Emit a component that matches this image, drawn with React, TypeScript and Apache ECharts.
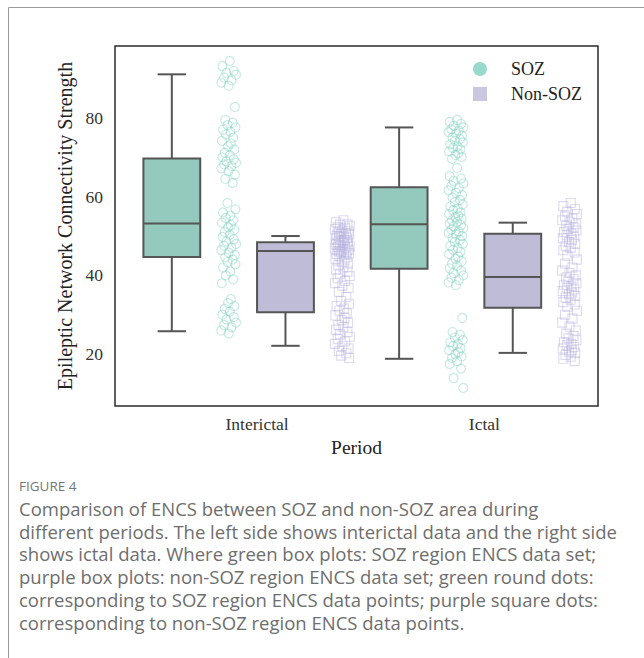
import React, { useEffect, useRef } from "react";
import * as echarts from "echarts";

// ---- Data ----
const periods = ["Interictal", "Ictal"];
const periodCenters = [1.5, 5.5];
const yTicks = [20, 40, 60, 80];

// slot positions (box, scatter) per period
const sozBoxPos = [0, 4];
const sozDotPos = [1, 5];
const nonBoxPos = [2, 6];
const nonDotPos = [3, 7];

// [min, Q1, median, Q3, max]
const sozBoxes = [
  [25.8, 44.7, 53.2, 69.7, 91.1],
  [18.8, 41.7, 53.0, 62.4, 77.6],
];
const nonSozBoxes = [
  [22.1, 30.6, 46.2, 48.4, 50.0],
  [20.3, 31.8, 39.6, 50.6, 53.4],
];

const sozInterictal = [
  94.5, 93.2, 92.0, 91.5, 91.0, 90.3, 89.6, 89.0, 88.2, 82.8,
  79.5, 78.8, 78.2, 77.6, 77.0, 76.5, 75.8, 75.0, 74.2, 73.5, 72.8, 72.0, 71.2, 70.5,
  70.0, 69.5, 69.0, 68.6, 68.2, 67.8, 67.2, 66.5, 65.6, 64.5, 63.5,
  58.4, 56.8, 56.0, 55.2, 54.6, 54.0, 53.4, 52.8, 52.2, 51.6, 51.0, 50.3, 49.8, 49.2,
  48.6, 48.0, 47.5, 47.0, 46.4, 45.8, 45.2, 44.6, 44.0, 43.4, 42.8, 42.0, 41.0, 40.0,
  39.0, 38.0,
  34.0, 33.0, 32.2, 31.5, 30.8, 30.0, 29.4, 28.8, 28.0, 27.4, 26.8, 26.0, 25.2,
];
const sozIctal = [
  79.5, 79.0, 78.5, 78.0, 77.6, 77.2, 76.8, 76.4, 76.0, 75.5, 75.0, 74.6, 74.2, 73.8,
  73.3, 72.8, 72.4, 72.0, 71.5, 71.0, 70.6, 70.1, 69.6,
  67.3,
  65.2, 64.6, 64.0, 63.4, 62.8, 62.2, 61.6, 61.0, 60.4, 59.8, 59.2, 58.6, 58.0, 57.5,
  57.0, 56.5, 56.0, 55.6, 55.2, 54.8, 54.4, 54.0, 53.6, 53.2, 52.8, 52.4, 52.0, 51.6,
  51.2, 50.8, 50.4, 50.0, 49.5, 49.0, 48.5, 48.0, 47.5, 47.0, 46.5, 46.0,
  45.4, 44.8, 44.2, 43.6, 43.0, 42.4, 41.8, 41.2, 40.6, 40.0, 39.4, 38.8, 38.2, 37.5,
  29.2,
  25.6, 24.9, 24.2, 23.6, 23.0, 22.5, 22.0, 21.5, 21.0, 20.5, 20.0, 19.4, 19.0,
  18.2, 17.5, 16.3, 13.9, 11.4,
];
const nonSozInterictal = [
  54.0, 53.5, 53.0, 52.9, 52.6, 52.2, 52.1, 51.8, 51.4, 51.2, 51.0, 50.7, 50.5, 50.4,
  50.1, 49.9, 49.8, 49.5, 49.2, 49.0, 48.9, 48.6, 48.4, 48.3, 48.0, 47.9, 47.7, 47.4,
  47.2, 47.1, 46.8, 46.6, 46.5, 46.2, 46.0, 45.9, 45.6, 45.4, 45.3, 45.0,
  44.6, 44.2, 43.8, 43.4, 43.0, 42.5, 42.0, 41.5, 41.0, 40.4, 39.8, 39.2, 38.6, 38.0,
  37.4, 36.8, 35.8, 34.5, 33.5, 32.8, 32.2, 31.6, 31.0, 30.4, 29.8, 29.2, 28.6, 28.0,
  27.4, 26.8, 26.2, 25.6, 25.0, 24.4, 23.8, 23.2, 22.6, 22.0, 21.4, 20.8, 20.2, 19.6,
  19.0,
];
const nonSozIctal = [
  58.4, 57.6, 56.8, 56.2, 55.6, 55.0, 54.5, 54.0, 53.5, 53.0, 52.6, 52.2, 51.8, 51.4,
  51.0, 50.6, 50.2, 49.8, 49.4, 49.0, 48.5, 48.0, 47.5, 47.0, 46.4, 45.8,
  45.0, 44.0, 43.0, 42.0,
  41.2, 40.6, 40.0, 39.5, 39.0, 38.5, 38.0, 37.6, 37.2, 36.8, 36.4, 36.0, 35.6, 35.2,
  34.8, 34.3, 33.8, 33.2, 32.6, 32.0,
  31.0, 30.0, 29.0, 28.0, 27.0, 26.0,
  25.2, 24.6, 24.0, 23.5, 23.0, 22.6, 22.2, 21.8, 21.4, 21.0, 20.6, 20.2, 19.8, 19.3,
  18.8, 18.2,
];

// hand-picked horizontal jitter offsets (slot units)
const jitter = [
  0.02, -0.11, 0.09, -0.04, 0.13, -0.08, 0.05, -0.13, 0.0, 0.11, -0.06, 0.07, -0.02,
  0.12, -0.1, 0.03, -0.05, 0.08, -0.12, 0.04, -0.01, 0.1, -0.07,
];

const captionTitle = "FIGURE 4";
const captionLines = [
  "Comparison of ENCS between SOZ and non-SOZ area during",
  "different periods. The left side shows interictal data and the right side",
  "shows ictal data. Where green box plots: SOZ region ENCS data set;",
  "purple box plots: non-SOZ region ENCS data set; green round dots:",
  "corresponding to SOZ region ENCS data points; purple square dots:",
  "corresponding to non-SOZ region ENCS data points.",
];

// ---- Styles ----
const SERIF = "Liberation Serif";
const SANS = "Open Sans";
const SOZ_FILL = "#94c9bd";
const NON_FILL = "#bfbcd7";
const SOZ_DOT = "rgba(120, 208, 190, 0.55)";
const NON_DOT = "rgba(178, 172, 220, 0.55)";
const LINE = "#555555";

function toDots(pos: number, values: number[]) {
  return values.map((v, i) => [pos + jitter[i % jitter.length], v]);
}

function boxRenderer(fill: string) {
  return (params: any, api: any) => {
    const x = api.value(0);
    const lo = api.value(1);
    const q1 = api.value(2);
    const med = api.value(3);
    const q3 = api.value(4);
    const hi = api.value(5);
    const tl = api.coord([x - 0.5, q3]);
    const br = api.coord([x + 0.5, q1]);
    const mL = api.coord([x - 0.5, med]);
    const mR = api.coord([x + 0.5, med]);
    const top = api.coord([x, hi]);
    const bot = api.coord([x, lo]);
    const cL = api.coord([x - 0.25, hi])[0];
    const cR = api.coord([x + 0.25, hi])[0];
    const ls = { stroke: LINE, lineWidth: 2 };
    return {
      type: "group",
      children: [
        { type: "line", shape: { x1: top[0], y1: top[1], x2: top[0], y2: tl[1] }, style: ls },
        { type: "line", shape: { x1: bot[0], y1: br[1], x2: bot[0], y2: bot[1] }, style: ls },
        { type: "line", shape: { x1: cL, y1: top[1], x2: cR, y2: top[1] }, style: ls },
        { type: "line", shape: { x1: cL, y1: bot[1], x2: cR, y2: bot[1] }, style: ls },
        {
          type: "rect",
          shape: { x: tl[0], y: tl[1], width: br[0] - tl[0], height: br[1] - tl[1] },
          style: { fill, stroke: LINE, lineWidth: 2 },
        },
        { type: "line", shape: { x1: mL[0], y1: mL[1], x2: mR[0], y2: mR[1] }, style: ls },
      ],
    };
  };
}

export default function App() {
  const ref = useRef<HTMLDivElement>(null);
  useEffect(() => {
    if (!ref.current) return;
    const chart = echarts.init(ref.current, undefined, { renderer: "svg" });
    const graphics: any[] = [
      { type: "line", shape: { x1: 8.5, y1: 7.5, x2: 644, y2: 7.5 }, style: { stroke: "#9a9a9a", lineWidth: 1 } },
      { type: "line", shape: { x1: 8.5, y1: 7.5, x2: 8.5, y2: 658 }, style: { stroke: "#9a9a9a", lineWidth: 1 } },
      {
        type: "text",
        x: 19,
        y: 486,
        style: { text: captionTitle, fontFamily: SANS, fontSize: 13.5, fill: "#757575", verticalAlign: "middle" },
      },
      ...captionLines.map((t, i) => ({
        type: "text",
        x: 19,
        y: 508.5 + i * 22.7,
        style: { text: t, fontFamily: SANS, fontSize: 18.5, fill: "#6e6e6e", verticalAlign: "middle" },
      })),
    ];
    chart.setOption({
      animation: false,
      backgroundColor: "#ffffff",
      grid: {
        left: 115,
        top: 46,
        width: 483,
        height: 360,
        show: true,
        borderColor: "#2b2b2b",
        borderWidth: 1.5,
        backgroundColor: "transparent",
      },
      legend: {
        orient: "vertical",
        left: 473,
        top: 60,
        padding: 0,
        itemWidth: 14,
        itemHeight: 14,
        itemGap: 7,
        selectedMode: false,
        textStyle: { fontFamily: SERIF, fontSize: 18, color: "#222", padding: [0, 0, 0, 19] },
        data: [
          { name: "SOZ", icon: "circle", itemStyle: { color: "#80cfbf", borderWidth: 0 } },
          { name: "Non-SOZ", icon: "rect", itemStyle: { color: "#bdb9da", borderWidth: 0 } },
        ],
      },
      xAxis: {
        type: "value",
        min: -1,
        max: 7.5,
        name: "Period",
        nameLocation: "middle",
        nameGap: 30,
        nameTextStyle: { fontFamily: SERIF, fontSize: 19.5, color: "#222" },
        axisLine: { show: false },
        axisTick: { show: false },
        splitLine: { show: false },
        axisLabel: {
          customValues: periodCenters,
          formatter: (v: number) => periods[periodCenters.indexOf(v)] ?? "",
          fontFamily: SERIF,
          fontSize: 17.5,
          color: "#333",
          margin: 9,
        },
      },
      yAxis: {
        type: "value",
        min: 6.8,
        max: 98.3,
        name: "Epileptic Network Connectivity Strength",
        nameLocation: "middle",
        nameGap: 36,
        nameRotate: 90,
        nameTextStyle: { fontFamily: SERIF, fontSize: 20, color: "#222" },
        axisLine: { show: false },
        axisTick: { show: false },
        splitLine: { show: false },
        axisLabel: {
          customValues: yTicks,
          fontFamily: SERIF,
          fontSize: 17.5,
          color: "#333",
          margin: 12,
        },
      },
      series: [
        {
          type: "custom",
          name: "SOZ box",
          renderItem: boxRenderer(SOZ_FILL),
          encode: { x: 0, y: [1, 2, 3, 4, 5] },
          data: sozBoxes.map((b, i) => [sozBoxPos[i], ...b]),
          z: 2,
        },
        {
          type: "custom",
          name: "Non-SOZ box",
          renderItem: boxRenderer(NON_FILL),
          encode: { x: 0, y: [1, 2, 3, 4, 5] },
          data: nonSozBoxes.map((b, i) => [nonBoxPos[i], ...b]),
          z: 2,
        },
        {
          type: "scatter",
          name: "SOZ",
          symbol: "circle",
          symbolSize: 9,
          itemStyle: { color: "rgba(0,0,0,0)", borderColor: SOZ_DOT, borderWidth: 1.1 },
          data: [...toDots(sozDotPos[0], sozInterictal), ...toDots(sozDotPos[1], sozIctal)],
          z: 3,
        },
        {
          type: "scatter",
          name: "Non-SOZ",
          symbol: "rect",
          symbolSize: 9,
          itemStyle: { color: "rgba(0,0,0,0)", borderColor: NON_DOT, borderWidth: 1.1 },
          data: [...toDots(nonDotPos[0], nonSozInterictal), ...toDots(nonDotPos[1], nonSozIctal)],
          z: 3,
        },
      ],
      graphic: graphics,
    });
    return () => chart.dispose();
  }, []);
  return (
    <div
      ref={ref}
      style={{ position: "absolute", left: 0, top: 0, width: 644, height: 658, background: "#fff" }}
    />
  );
}
